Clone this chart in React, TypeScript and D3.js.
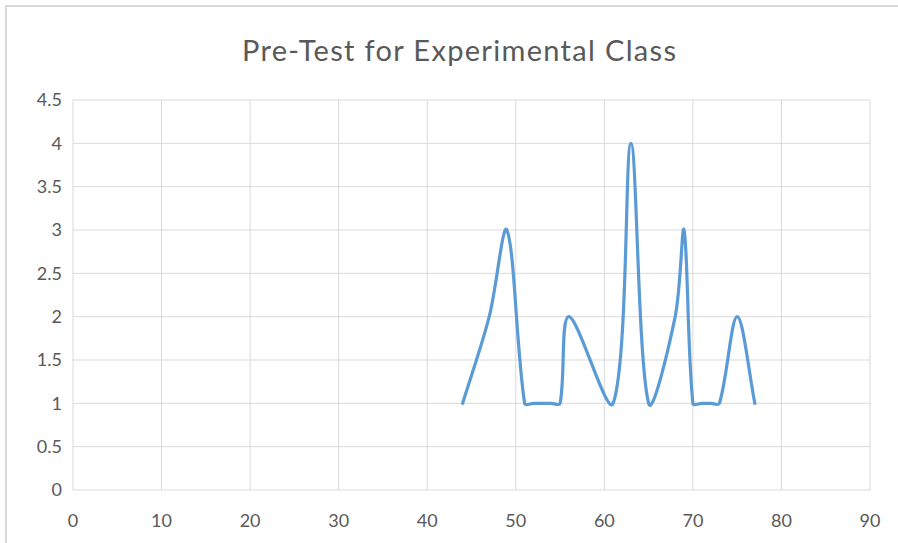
import React, { useRef, useEffect } from "react";
import * as d3 from "d3";

const title = "Pre-Test for Experimental Class";
const scores = [44, 47, 49, 51, 52, 53, 54, 55, 56, 61, 63, 65, 68, 69, 70, 71, 72, 73, 75, 77];
const counts = [1, 2, 3, 1, 1, 1, 1, 1, 2, 1, 4, 1, 2, 3, 1, 1, 1, 1, 2, 1];
const xTicks = [0, 10, 20, 30, 40, 50, 60, 70, 80, 90];
const yTicks = [0, 0.5, 1, 1.5, 2, 2.5, 3, 3.5, 4, 4.5];

const W = 898;
const H = 543;
const margin = { top: 100, right: 28, bottom: 53, left: 73 };
const font = "Lato, 'Open Sans', sans-serif";

// Excel-style smoothing: Catmull-Rom tangents, arm lengths weighted by segment length
class ExcelCurve {
  _ctx: any;
  _pts: [number, number][] = [];
  constructor(ctx: any) { this._ctx = ctx; }
  areaStart() {}
  areaEnd() {}
  lineStart() { this._pts = []; }
  point(x: number, y: number) { this._pts.push([+x, +y]); }
  lineEnd() {
    const p = this._pts;
    const n = p.length;
    if (!n) return;
    const at = (i: number) => p[Math.max(0, Math.min(n - 1, i))];
    const dist = (a: [number, number], b: [number, number]) => Math.hypot(b[0] - a[0], b[1] - a[1]);
    this._ctx.moveTo(p[0][0], p[0][1]);
    for (let i = 0; i < n - 1; i++) {
      const p0 = at(i - 1), p1 = p[i], p2 = p[i + 1], p3 = at(i + 2);
      const d01 = dist(p0, p1), d12 = dist(p1, p2), d23 = dist(p2, p3);
      const f1 = d12 / (d01 + d12 || 1) / 3;
      const f2 = d12 / (d12 + d23 || 1) / 3;
      const c1x = p1[0] + (p2[0] - p0[0]) * f1;
      const c1y = p1[1] + (p2[1] - p0[1]) * f1;
      const c2x = p2[0] - (p3[0] - p1[0]) * f2;
      const c2y = p2[1] - (p3[1] - p1[1]) * f2;
      this._ctx.bezierCurveTo(c1x, c1y, c2x, c2y, p2[0], p2[1]);
    }
  }
}

export default function App() {
  const svgRef = useRef<SVGSVGElement>(null);

  useEffect(() => {
    const svg = d3.select(svgRef.current);
    svg.selectAll("*").remove();

    const x = d3.scaleLinear().domain([0, 90]).range([margin.left, W - margin.right]);
    const y = d3.scaleLinear().domain([0, 4.5]).range([H - margin.bottom, margin.top]);

    // outer chart border
    svg.append("rect")
      .attr("x", 6).attr("y", 6)
      .attr("width", W + 20).attr("height", H + 20)
      .attr("fill", "#fff")
      .attr("stroke", "#d9d9d9")
      .attr("stroke-width", 2);

    // gridlines
    svg.append("g")
      .selectAll("line")
      .data(yTicks)
      .join("line")
      .attr("x1", x(0)).attr("x2", x(90))
      .attr("y1", d => y(d)).attr("y2", d => y(d))
      .attr("stroke", "#d9d9d9")
      .attr("stroke-width", 1);

    svg.append("g")
      .selectAll("line")
      .data(xTicks)
      .join("line")
      .attr("x1", d => x(d)).attr("x2", d => x(d))
      .attr("y1", y(0)).attr("y2", y(4.5))
      .attr("stroke", "#d9d9d9")
      .attr("stroke-width", 1);

    // axis labels
    svg.append("g")
      .selectAll("text")
      .data(yTicks)
      .join("text")
      .attr("x", margin.left - 11)
      .attr("y", d => y(d))
      .attr("dy", "0.35em")
      .attr("text-anchor", "end")
      .attr("font-family", font)
      .attr("font-size", 18)
      .attr("fill", "#595959")
      .text(d => String(d));

    svg.append("g")
      .selectAll("text")
      .data(xTicks)
      .join("text")
      .attr("x", d => x(d))
      .attr("y", y(0) + 37)
      .attr("text-anchor", "middle")
      .attr("font-family", font)
      .attr("font-size", 18)
      .attr("fill", "#595959")
      .text(d => String(d));

    const points = scores.map((s, i) => [s, counts[i]] as [number, number]);
    const line = d3.line<[number, number]>()
      .x(d => x(d[0]))
      .y(d => y(d[1]))
      .curve(((ctx: any) => new ExcelCurve(ctx)) as any);

    svg.append("path")
      .attr("d", line(points))
      .attr("fill", "none")
      .attr("stroke", "#5b9bd5")
      .attr("stroke-width", 3.2)
      .attr("stroke-linecap", "round")
      .attr("stroke-linejoin", "round");

    svg.append("text")
      .attr("x", 459)
      .attr("y", 61)
      .attr("text-anchor", "middle")
      .attr("font-family", font)
      .attr("font-size", 29)
      .attr("textLength", 434)
      .attr("lengthAdjust", "spacing")
      .attr("fill", "#595959")
      .text(title);
  }, []);

  return (
    <div style={{ position: "absolute", left: 0, top: 0 }}>
      <svg ref={svgRef} width={W} height={H} style={{ display: "block" }} />
    </div>
  );
}
